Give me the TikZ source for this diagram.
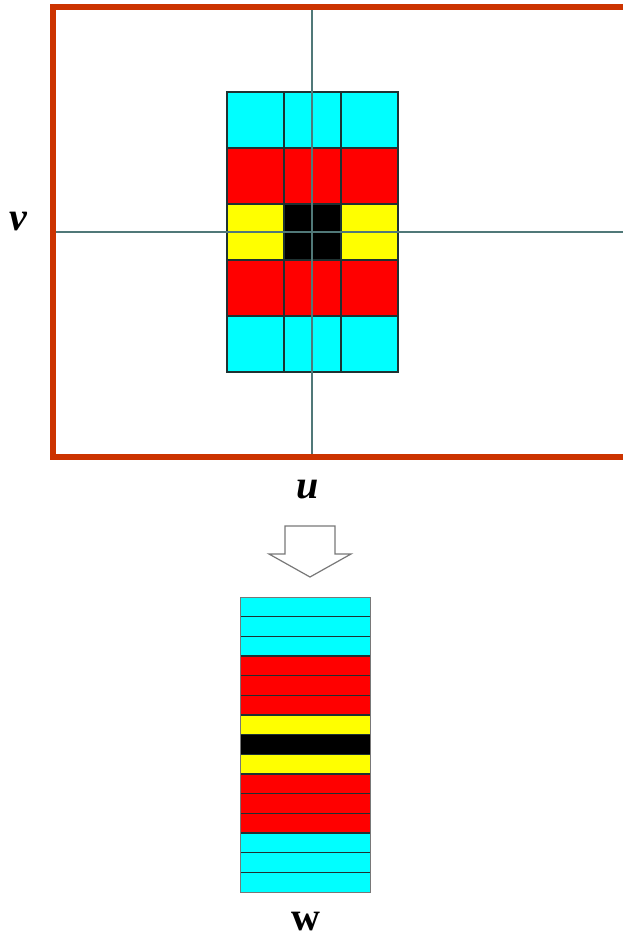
\documentclass[tikz,border=0pt]{standalone}
\usepackage{xcolor}
\usepackage{fontspec}
\setmainfont{Liberation Serif}
\definecolor{framered}{RGB}{204,51,0}
\definecolor{axisteal}{RGB}{80,120,120}
\definecolor{cellline}{RGB}{30,50,50}
\definecolor{cellcyan}{RGB}{0,255,255}
\definecolor{cellred}{RGB}{255,0,0}
\definecolor{cellyellow}{RGB}{255,255,0}
\definecolor{arrowgray}{RGB}{120,120,120}

\begin{document}
\begin{tikzpicture}[x=1pt, y=-1pt,
    gridline/.style={draw=cellline, line width=1.2pt},
    axisline/.style={draw=axisteal, line width=1.5pt},
    axislabel/.style={font=\fontsize{40}{42}\selectfont\bfseries\itshape, inner sep=0pt}]
  \useasboundingbox (0,0) rectangle (623,939);
  \fill[white] (0,0) rectangle (623,939);

  % spatial kernel
  \fill[cellcyan] (227,92) rectangle (398,148);
  \fill[cellred] (227,148) rectangle (398,204);
  \fill[cellyellow] (227,204) rectangle (284,260);
  \fill[black] (284,204) rectangle (341,260);
  \fill[cellyellow] (341,204) rectangle (398,260);
  \fill[cellred] (227,260) rectangle (398,316);
  \fill[cellcyan] (227,316) rectangle (398,372);
  \draw[gridline] (227,92) rectangle (398,372);
  \draw[gridline] (284,92) -- (284,372);
  \draw[gridline] (341,92) -- (341,372);
  \draw[gridline] (227,148) -- (398,148);
  \draw[gridline] (227,204) -- (398,204);
  \draw[gridline] (227,260) -- (398,260);
  \draw[gridline] (227,316) -- (398,316);

  % axes and frame
  \draw[axisline] (312,10) -- (312,454);
  \draw[axisline] (56,232) -- (623,232);
  \draw[framered, line width=6pt] (623,7) -- (53,7) -- (53,457) -- (623,457);
  \node[axislabel] (vlabel) at (18,222) {v};
  \node[axislabel] (ulabel) at (308,490) {u};

  % flatten arrow
  \draw[arrowgray, fill=white, line width=1.2pt, line join=miter]
    (285,526) -- (335,526) -- (335,554) -- (351,554) -- (310,577)
    -- (269,554) -- (285,554) -- cycle;

  % vectorised kernel
  \fill[cellcyan] (240,597) rectangle (370,656);
  \fill[cellred] (240,656) rectangle (370,715);
  \fill[cellyellow] (240,715) rectangle (370,734.67);
  \fill[black] (240,734.67) rectangle (370,754.33);
  \fill[cellyellow] (240,754.33) rectangle (370,774);
  \fill[cellred] (240,774) rectangle (370,833);
  \fill[cellcyan] (240,833) rectangle (370,892);
  \draw[gridline] (240,616.67) -- (370,616.67);
  \draw[gridline] (240,636.33) -- (370,636.33);
  \draw[gridline] (240,656) -- (370,656);
  \draw[gridline] (240,675.67) -- (370,675.67);
  \draw[gridline] (240,695.33) -- (370,695.33);
  \draw[gridline] (240,715) -- (370,715);
  \draw[gridline] (240,734.67) -- (370,734.67);
  \draw[gridline] (240,754.33) -- (370,754.33);
  \draw[gridline] (240,774) -- (370,774);
  \draw[gridline] (240,793.67) -- (370,793.67);
  \draw[gridline] (240,813.33) -- (370,813.33);
  \draw[gridline] (240,833) -- (370,833);
  \draw[gridline] (240,852.67) -- (370,852.67);
  \draw[gridline] (240,872.33) -- (370,872.33);
  \draw[draw=arrowgray, line width=1pt] (240,597) rectangle (370,892);
  \node[font=\fontsize{40}{42}\selectfont\bfseries, inner sep=0pt] (wlabel) at (306,922) {w};
\end{tikzpicture}
\end{document}
